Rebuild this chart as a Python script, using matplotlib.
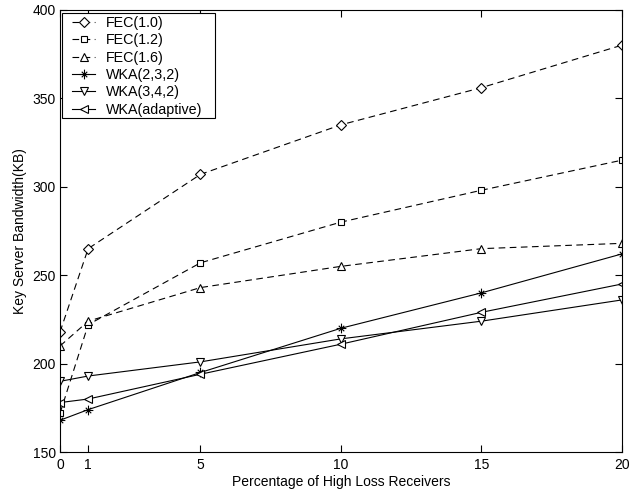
import matplotlib
matplotlib.use("Agg")
import numpy as np
import matplotlib.pyplot as plt
from matplotlib.path import Path
from matplotlib.patches import Rectangle

plt.rcParams['font.family'] = ['Liberation Sans', 'DejaVu Sans']

x = [0, 1, 5, 10, 15, 20]
fec10 = [218, 265, 307, 335, 356, 380]
fec12 = [172, 222, 257, 280, 298, 315]
fec16 = [210, 224, 243, 255, 265, 268]
wka232 = [168, 174, 195, 220, 240, 262]
wka342 = [190, 193, 201, 214, 224, 236]
wka_adapt = [178, 180, 194, 211, 229, 245]
series = [
    ("FEC(1.0)", fec10, 'D', '--'),
    ("FEC(1.2)", fec12, 's', '--'),
    ("FEC(1.6)", fec16, '^', '--'),
    ("WKA(2,3,2)", wka232, 'ast', '-'),
    ("WKA(3,4,2)", wka342, 'v', '-'),
    ("WKA(adaptive)", wka_adapt, '<', '-'),
]
xticks = [0, 1, 5, 10, 15, 20]
yticks = [150, 200, 250, 300, 350, 400]

# asterisk marker (plus + cross), as line segments
verts, codes = [], []
for ang, r in zip(np.deg2rad([90, 0, 45, 135]), [1.0, 1.0, 0.8, 0.8]):
    dx, dy = r * np.cos(ang), r * np.sin(ang)
    verts += [(-dx, -dy), (dx, dy)]
    codes += [Path.MOVETO, Path.LINETO]
asterisk = Path(verts, codes)

fig = plt.figure(figsize=(6.39, 4.93), dpi=100)
ax = fig.add_axes([0.094, 0.083, 0.879, 0.897])
for label, y, m, ls in series:
    ms = 6
    if m in ('D', 's'):
        ms = 5
    if m == 'ast':
        line, = ax.plot(x, y, linestyle=ls, marker=asterisk, color='black',
                        linewidth=0.8, markersize=7, markeredgewidth=0.8,
                        fillstyle='none', label=label)
    else:
        line, = ax.plot(x, y, linestyle=ls, marker=m, color='black', linewidth=0.8,
                        markersize=ms, markeredgewidth=0.8, markerfacecolor='white',
                        label=label)
    if ls == '--':
        line.set_dashes((6, 4))

ax.set_xlim(0, 20)
ax.set_ylim(150, 400)
ax.set_xticks(xticks)
ax.set_yticks(yticks)
ax.tick_params(direction='in', top=True, right=True, labelsize=10, length=5)
ax.tick_params(axis='x', pad=4)
ax.tick_params(axis='y', pad=3)
ax.set_xlabel("Percentage of High Loss Receivers", fontsize=10, labelpad=2.5)
ax.set_ylabel("Key Server Bandwidth(KB)", fontsize=10, labelpad=4)
for s in ax.spines.values():
    s.set_linewidth(0.8)

# legend (content) and a Matlab-style rectangular frame around it
leg = ax.legend(loc='upper left', bbox_to_anchor=(0.0214, 0.9857), fontsize=10.3,
                handlelength=1.6, frameon=False, borderaxespad=0.0,
                labelspacing=0.23, handletextpad=0.77, borderpad=0.0)
frame = Rectangle((0.0041, 0.7563), 0.2717, 0.2362, transform=ax.transAxes,
                  facecolor='white', edgecolor='black', linewidth=0.8, zorder=4.5)
ax.add_patch(frame)
leg.set_zorder(5)
fig.savefig("out.png", dpi=100)
